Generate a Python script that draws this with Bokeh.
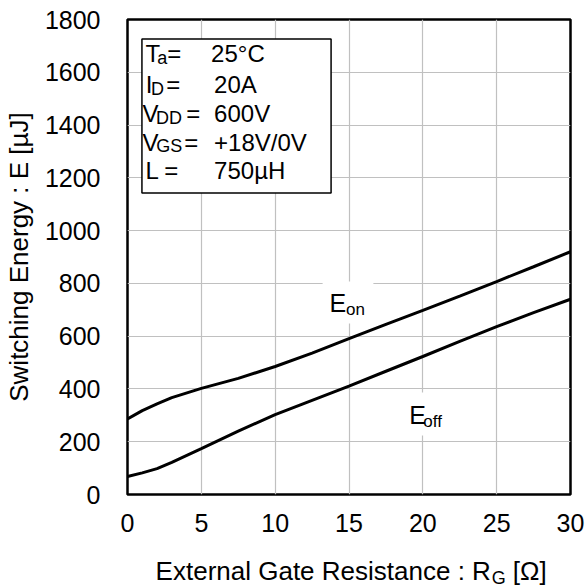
from bokeh.plotting import figure
from bokeh.models import Range1d, FixedTicker, Label
from bokeh.layouts import column
from bokeh.embed import file_html
from bokeh.resources import INLINE

# ---- data ----
rg = [0, 1, 2, 3, 5, 7.5, 10, 12.5, 15, 17.5, 20, 22.5, 25, 27.5, 30]
e_on = [286, 318, 343, 367, 402, 440, 485, 536, 591, 645, 698, 752, 807, 863, 920]
e_off = [68, 82, 98, 122, 174, 240, 303, 357, 411, 467, 523, 580, 636, 689, 740]
x_ticks = [0, 5, 10, 15, 20, 25, 30]
y_ticks = [0, 200, 400, 600, 800, 1000, 1200, 1400, 1600, 1800]
cond_rows = [
    ("T", "a", "=", "25°C"),
    ("I", "D", "=", "20A"),
    ("V", "DD", "=", "600V"),
    ("V", "GS", "=", "+18V/0V"),
    ("L", "", "=", "750µH"),
]
x_title = ("External Gate Resistance : R", "G", "[Ω]")
y_title = "Switching Energy : E [µJ]"

FONT = "Liberation Sans"
W = 587
H1 = 545          # main figure height
H2 = 587 - H1     # strip below holding the x-axis title
FL, FR, FT, FB = 125, 570, 19, 494

x_range = Range1d(0, 30)
p = figure(width=W, height=H1, output_backend="svg", toolbar_location=None,
           x_range=x_range, y_range=Range1d(0, 1800),
           min_border_left=FL, min_border_right=W - FR,
           min_border_top=FT, min_border_bottom=H1 - FB)
p.background_fill_color = "white"
p.border_fill_color = "white"
p.outline_line_color = "black"
p.outline_line_width = 2.5

XS = (FR - FL) / 30.0
YS = (FB - FT) / 1800.0
def px2x(px):
    return (px - FL) / XS
def py2y(py):
    return (FB - py) / YS

for ax in (p.xaxis[0], p.yaxis[0]):
    ax.axis_line_color = None
    ax.major_tick_line_color = None
    ax.minor_tick_line_color = None
    ax.major_tick_out = 0
    ax.major_tick_in = 0
    ax.major_label_text_font = FONT
    ax.major_label_text_font_size = "25px"
    ax.major_label_text_color = "black"
    ax.axis_label_text_font = FONT
    ax.axis_label_text_font_size = "26px"
    ax.axis_label_text_font_style = "normal"
    ax.axis_label_text_color = "black"

p.xaxis.ticker = FixedTicker(ticks=x_ticks)
p.yaxis.ticker = FixedTicker(ticks=y_ticks)
p.xaxis.major_label_standoff = 19
p.yaxis.major_label_standoff = 27
p.yaxis.axis_label = y_title
p.yaxis.axis_label_standoff = 8

p.xgrid.ticker = FixedTicker(ticks=x_ticks)
p.ygrid.ticker = FixedTicker(ticks=y_ticks)
for g in (p.xgrid[0], p.ygrid[0]):
    g.grid_line_color = "#c0c0c0"
    g.grid_line_width = 1.2

# curves
p.line(rg, e_on, line_color="black", line_width=3)
p.line(rg, e_off, line_color="black", line_width=3)

# white boxes behind the curve labels
p.quad(left=[px2x(321), px2x(401)], right=[px2x(372), px2x(452)],
       top=[py2y(281), py2y(392)], bottom=[py2y(323), py2y(435)],
       fill_color="white", line_color=None)

def lab(fig, ymap, px, py, text, size, align="left"):
    # Bokeh places "alphabetic" text a bit low; compensate by ~0.37 em
    py = py - 0.37 * size
    fig.add_layout(Label(x=px2x(px), y=ymap(py), text=text, text_font=FONT,
                         text_font_size=f"{size}px", text_color="black",
                         text_align=align, text_baseline="alphabetic"))

lab(p, py2y, 328, 311.7, "E", 25)
lab(p, py2y, 344.5, 315.5, "on", 17)
lab(p, py2y, 408, 423.3, "E", 25)
lab(p, py2y, 422.2, 427.5, "off", 17)

# condition box
p.quad(left=px2x(139.5), right=px2x(329.5), top=py2y(38.5), bottom=py2y(192.5),
       fill_color="white", line_color="black", line_width=1.5)

main_x = [143, 143.4, 140, 140, 143]
sub_x = [155, 148.7, 153.7, 154, 0]
eq_x = [165, 164, 184, 182, 162]
val_x = [209, 212, 212, 212, 212]
baselines = [62, 93, 122, 150.5, 179]
for i, (m, s, eq, v) in enumerate(cond_rows):
    b = baselines[i]
    lab(p, py2y, main_x[i], b, m, 24)
    if s:
        lab(p, py2y, sub_x[i], b + 2, s, 18)
    lab(p, py2y, eq_x[i], b, eq, 24)
    lab(p, py2y, val_x[i], b, v, 24)

# strip below the plot for the x-axis title (with subscript)
p2 = figure(width=W, height=H2, output_backend="svg", toolbar_location=None,
            x_range=x_range, y_range=Range1d(0, H2), title=None,
            x_axis_location=None, y_axis_location=None,
            min_border_left=FL, min_border_right=W - FR,
            min_border_top=0, min_border_bottom=0, min_border=0)
p2.grid.visible = False
p2.outline_line_color = None
p2.background_fill_color = "white"
p2.border_fill_color = "white"
def sy(py):
    return H1 + H2 - py

lab(p2, sy, 490, 580.5, x_title[0], 26, "right")
lab(p2, sy, 491, 584, x_title[1], 18)
lab(p2, sy, 512, 580.5, x_title[2], 26)

layout = column(p, p2, spacing=0)
open("out.html", "w").write(file_html(layout, INLINE))
